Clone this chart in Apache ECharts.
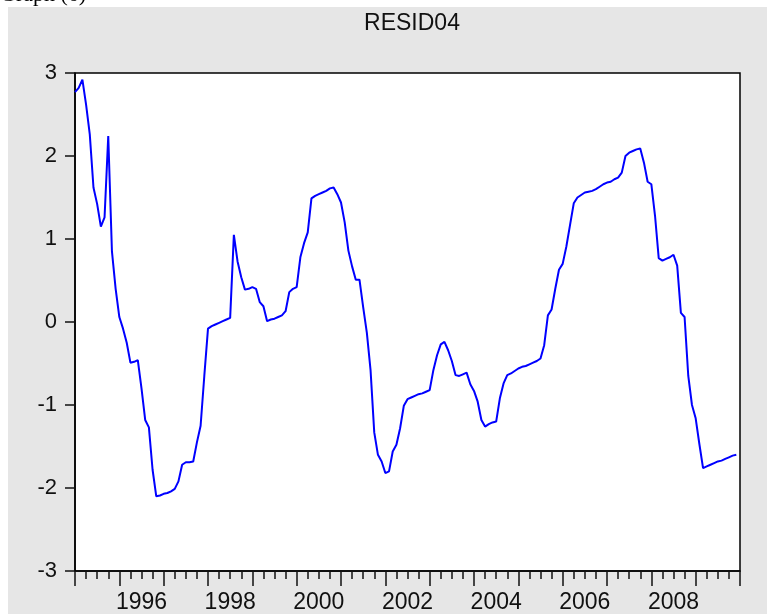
<!DOCTYPE html>
<html>
<head>
<meta charset="utf-8">
<script src="https://cdn.jsdelivr.net/npm/echarts@6/dist/echarts.min.js"></script>
<style>
  html, body { margin: 0; padding: 0; background: #fff; }
  #container { width: 767px; height: 614px; }
</style>
</head>
<body>
<div id="container"></div>
<script>
var dom = document.getElementById("container");
var myChart = echarts.init(dom);

// monthly residuals, 1995M01 .. 2009M12
var months = [];
for (var y = 1995; y <= 2009; y++) {
    for (var m = 1; m <= 12; m++) {
        months.push(y + 'M' + (m < 10 ? '0' + m : m));
    }
}

var resid04 = [
    2.77, 2.82, 2.92, 2.62, 2.26, 1.62, 1.42, 1.15, 1.26, 2.24, 0.85, 0.40,
    0.06, -0.08, -0.25, -0.49, -0.48, -0.46, -0.80, -1.18, -1.27, -1.78, -2.10, -2.09,
    -2.07, -2.06, -2.04, -2.01, -1.92, -1.72, -1.69, -1.69, -1.68, -1.45, -1.25, -0.65,
    -0.08, -0.05, -0.03, -0.01, 0.01, 0.03, 0.05, 1.05, 0.73, 0.54, 0.39, 0.40,
    0.42, 0.40, 0.24, 0.19, 0.01, 0.03, 0.04, 0.06, 0.08, 0.13, 0.36, 0.40,
    0.42, 0.78, 0.95, 1.08, 1.49, 1.52, 1.54, 1.56, 1.58, 1.61, 1.62, 1.54,
    1.44, 1.20, 0.86, 0.67, 0.51, 0.51, 0.18, -0.13, -0.58, -1.33, -1.60, -1.68,
    -1.82, -1.80, -1.56, -1.48, -1.28, -1.01, -0.93, -0.91, -0.89, -0.87, -0.86, -0.84,
    -0.82, -0.58, -0.40, -0.27, -0.24, -0.34, -0.47, -0.64, -0.65, -0.63, -0.61, -0.75,
    -0.83, -0.96, -1.18, -1.26, -1.23, -1.21, -1.20, -0.92, -0.74, -0.64, -0.62, -0.59,
    -0.56, -0.54, -0.53, -0.51, -0.49, -0.47, -0.44, -0.28, 0.08, 0.15, 0.40, 0.63,
    0.70, 0.91, 1.17, 1.43, 1.50, 1.53, 1.56, 1.57, 1.58, 1.60, 1.63, 1.66,
    1.68, 1.69, 1.72, 1.74, 1.80, 2.00, 2.04, 2.06, 2.08, 2.09, 1.92, 1.69,
    1.66, 1.28, 0.77, 0.74, 0.76, 0.78, 0.81, 0.68, 0.11, 0.06, -0.65, -1.00,
    -1.16, -1.47, -1.76, -1.74, -1.72, -1.70, -1.68, -1.67, -1.65, -1.63, -1.61, -1.60
];

var yearLabels = ['1996', '1998', '2000', '2002', '2004', '2006', '2008'];
var yMin = -3, yMax = 3;

var seriesData = resid04.map(function (v, i) { return [i, v]; });

option = {
    backgroundColor: '#e6e6e6',
    animation: false,
    title: {
        text: 'RESID04',
        left: 407,
        top: 7,
        textAlign: 'center',
        textStyle: {
            color: '#111',
            fontSize: 23,
            fontWeight: 'normal',
            fontFamily: 'Liberation Sans, Arial, sans-serif'
        }
    },
    graphic: [
        { type: 'rect', shape: { x: 0, y: 0, width: 767, height: 7 }, style: { fill: '#fff' }, z: 10 },
        { type: 'rect', shape: { x: 0, y: 0, width: 8, height: 614 }, style: { fill: '#fff' }, z: 10 },
        {
            type: 'text', x: 0, y: 6, z: 11,
            style: {
                text: 'Graph (6)',
                font: '22px "Liberation Serif", serif',
                fill: '#000',
                verticalAlign: 'bottom'
            }
        }
    ],
    grid: {
        left: 75,
        right: 27,
        top: 73,
        bottom: 43,
        show: true,
        backgroundColor: '#fff',
        borderColor: '#000',
        borderWidth: 1.5
    },
    xAxis: [
        {
            type: 'value',
            min: 0,
            max: 180,
            interval: 12,
            splitLine: { show: false },
            axisLine: { show: true, onZero: false, lineStyle: { color: '#000', width: 1.5 } },
            axisTick: { show: true, length: 15, lineStyle: { color: '#111', width: 1.5 } },
            minorTick: { show: true, splitNumber: 4, length: 8, lineStyle: { color: '#111', width: 1.5 } },
            axisLabel: { show: false }
        },
        {
            type: 'value',
            min: 0,
            max: 180,
            interval: 6,
            position: 'bottom',
            splitLine: { show: false },
            axisLine: { show: false, onZero: false },
            axisTick: { show: false },
            axisLabel: {
                show: true,
                margin: 20,
                color: '#111',
                fontSize: 23,
                fontFamily: 'Liberation Sans, Arial, sans-serif',
                formatter: function (v) {
                    if (v % 24 === 18) {
                        return yearLabels[(v - 18) / 24];
                    }
                    return '';
                }
            }
        }
    ],
    yAxis: {
        type: 'value',
        min: yMin,
        max: yMax,
        interval: 1,
        splitLine: { show: false },
        axisLine: { show: true, onZero: false, lineStyle: { color: '#000', width: 1.5 } },
        axisTick: { show: true, length: 10, lineStyle: { color: '#111', width: 1.5 } },
        axisLabel: {
            margin: 18,
            color: '#111',
            fontSize: 22,
            fontFamily: 'Liberation Sans, Arial, sans-serif'
        }
    },
    series: [
        {
            name: 'RESID04',
            type: 'line',
            xAxisIndex: 0,
            data: seriesData,
            symbol: 'none',
            lineStyle: { color: '#0000ff', width: 2 }
        }
    ]
};

if (option && typeof option === "object") {
    myChart.setOption(option, true);
}
</script>
</body>
</html>
